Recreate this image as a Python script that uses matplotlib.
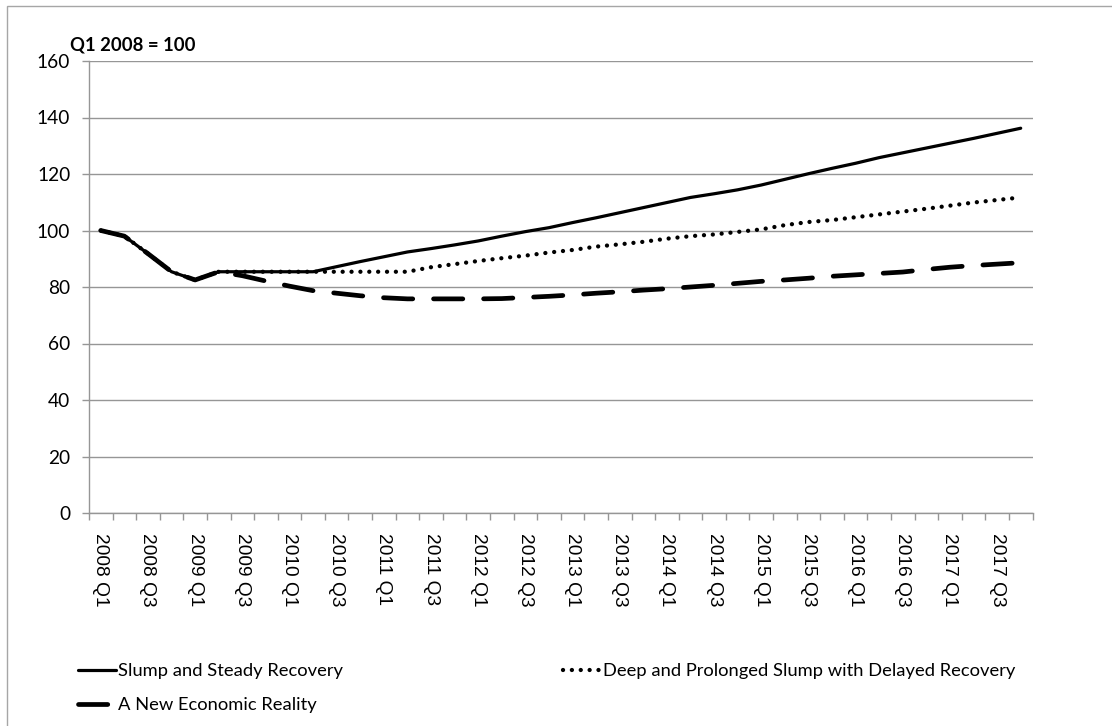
import matplotlib
matplotlib.use("Agg")
import matplotlib.pyplot as plt
from matplotlib.patches import Rectangle
import numpy as np

# quarters 2008 Q1 .. 2017 Q4
years = list(range(2008, 2018))
quarters = ["%d Q%d" % (y, q) for y in years for q in (1, 2, 3, 4)]

slump_steady = [100, 98, 91.8, 85.4, 82.5, 85.4, 85.4, 85.4, 85.4, 85.4,
                87.2, 89.0, 90.7, 92.4, 93.6, 94.9, 96.3, 98.0, 99.6, 101.0,
                102.8, 104.5, 106.3, 108.1, 109.9, 111.7, 113.0, 114.4, 116.1, 118.1,
                120.1, 122.0, 123.8, 125.8, 127.5, 129.2, 130.9, 132.6, 134.4, 136.2]
deep_prolonged = [100, 98, 91.8, 85.4, 82.5, 85.4, 85.4, 85.4, 85.4, 85.4,
                  85.4, 85.4, 85.4, 85.4, 87.0, 88.1, 89.2, 90.2, 91.1, 92.2,
                  93.1, 94.3, 95.1, 96.0, 97.1, 98.0, 98.6, 99.5, 100.4, 101.9,
                  103.0, 103.7, 104.7, 105.7, 106.7, 107.7, 108.8, 109.9, 110.8, 111.7]
new_reality = [100, 98, 91.8, 85.4, 82.5, 85.4, 84.0, 82.1, 80.3, 78.7,
               77.8, 76.9, 76.2, 75.8, 75.8, 75.8, 75.8, 75.9, 76.3, 76.7,
               77.2, 77.8, 78.3, 78.9, 79.4, 80.0, 80.6, 81.3, 82.0, 82.5,
               83.1, 83.8, 84.3, 84.8, 85.3, 86.2, 87.0, 87.6, 88.1, 88.6]

W, H = 1112, 726
fig = plt.figure(figsize=(W / 100, H / 100), dpi=100)
ax = fig.add_axes([89 / W, 1 - 513 / H, (1032.5 - 89) / W, (513 - 61) / H])

grey = "#969696"
x = np.arange(len(quarters))

ax.plot(x, slump_steady, color="black", lw=2.3, solid_capstyle="round",
        solid_joinstyle="round", label="Slump and Steady Recovery")
ax.plot(x, deep_prolonged, color="black", lw=3.1, dashes=(0.01, 2.05),
        dash_capstyle="round", label="Deep and Prolonged Slump with Delayed Recovery")
ax.plot(x, new_reality, color="black", lw=3.4, dashes=(6.2, 4.4),
        dash_capstyle="round", label="A New Economic Reality")

ax.set_xlim(-0.5, len(quarters) - 0.5)
ax.set_ylim(0, 160)
ax.set_yticks(range(0, 161, 20))
ax.yaxis.grid(True, color=grey, lw=1)
ax.set_axisbelow(True)

for s in ("top", "right"):
    ax.spines[s].set_visible(False)
for s in ("left", "bottom"):
    ax.spines[s].set_color(grey)
    ax.spines[s].set_linewidth(1)

# labels every other quarter, tick marks on category boundaries
ax.set_xticks(x[::2])
ax.set_xticklabels(quarters[::2], rotation=-90, family="Liberation Sans", fontsize=13.8)
ax.set_xticks(np.arange(-0.5, len(quarters)), minor=True)
ax.tick_params(axis="x", which="major", length=0, pad=14.5)
ax.tick_params(axis="x", which="minor", length=5, color=grey, width=1)
ax.tick_params(axis="y", length=5, color=grey, width=1, pad=8.5)
for t in ax.get_yticklabels():
    t.set_family("Lato")
    t.set_fontsize(13.8)

fig.text(70 / W, 1 - 45 / H, "Q1 2008 = 100", family="Lato", fontweight="bold",
         fontsize=13.3, ha="left", va="center")

# frame around the chart area
fig.patches.append(Rectangle((7 / W, -0.1), 1.2, 1 - 6.5 / H + 0.1,
                             transform=fig.transFigure, fill=False,
                             edgecolor="#a6a6a6", lw=1))

h = ax.get_lines()
leg_kw = dict(frameon=False, prop={"family": "Lato", "size": 13.2},
              handlelength=2.05, handletextpad=0.15, borderpad=0, borderaxespad=0,
              labelspacing=1.0)
fig.legend([h[0], h[2]], [h[0].get_label(), h[2].get_label()],
           loc="upper left", bbox_to_anchor=(78 / W, 1 - 663 / H), **leg_kw)
fig.legend([h[1]], [h[1].get_label()],
           loc="upper left", bbox_to_anchor=(563 / W, 1 - 663 / H), **leg_kw)

fig.savefig("out.png", dpi=100)
